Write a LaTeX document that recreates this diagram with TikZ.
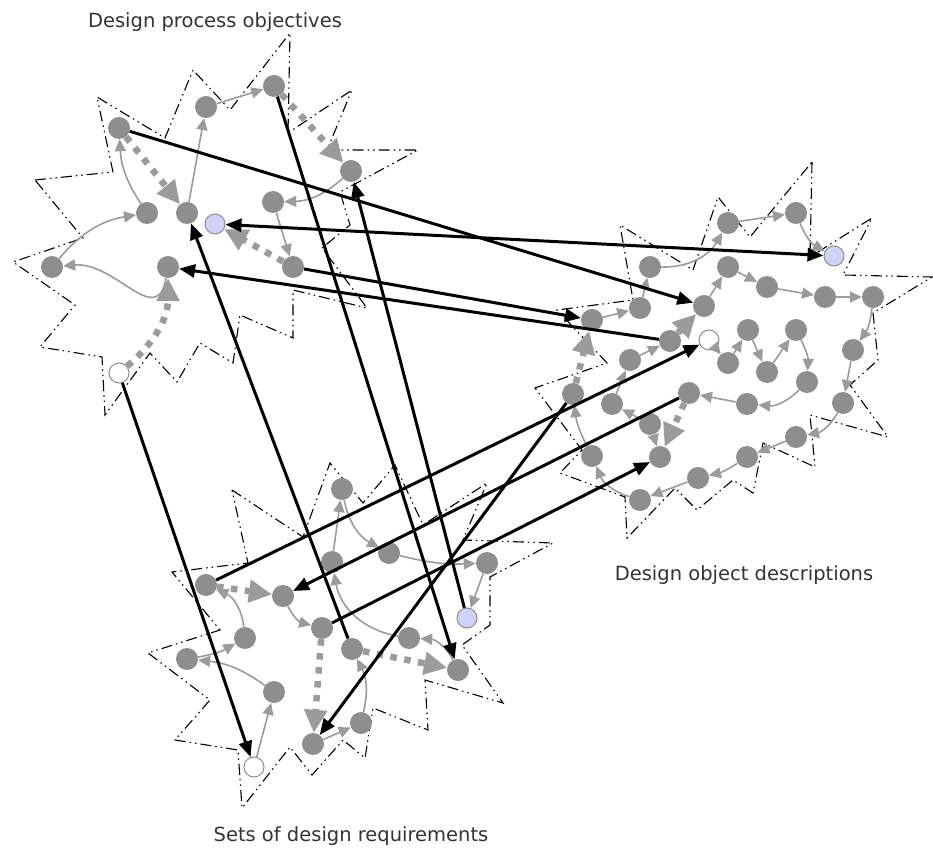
\documentclass[tikz,border=0pt]{standalone}
\usepackage{fontspec}
\newfontfamily\labelfont{DejaVu Sans}
\definecolor{DotGray}{HTML}{8E8E8E}
\definecolor{LinkGray}{HTML}{9B9B9B}
\definecolor{LinkLavender}{HTML}{D2D2F8}
\definecolor{LabelGray}{HTML}{333333}
\usetikzlibrary{arrows.meta}

\begin{document}
\begin{tikzpicture}[x=1pt, y=1pt,
    dot/.style={circle, fill=DotGray, minimum size=22pt, inner sep=0pt},
    startdot/.style={circle, draw=DotGray, fill=white, line width=1pt, minimum size=20pt, inner sep=0pt},
    linkdot/.style={circle, draw=DotGray, fill=LinkLavender, line width=1pt, minimum size=20pt, inner sep=0pt},
    thin/.style={->, >={Triangle[length=12pt, width=11pt]}, line width=1.6pt, LinkGray},
    thick/.style={->, >={Triangle[length=23pt, width=22pt]}, line width=6.5pt, LinkGray, dash pattern=on 6.5pt off 7.5pt},
    arr/.style={->, >={Triangle[length=16pt, width=13pt]}, line width=3pt, black},
    outline/.style={line width=1.1pt, dash pattern=on 11pt off 4pt on 1.5pt off 4pt on 1.5pt off 4pt},
    lbl/.style={font=\labelfont\fontsize{19.5}{23}\selectfont, text=LabelGray}
]
\useasboundingbox (0,0) rectangle (933,852);

\draw[outline] (35,672) -- (113,680) -- (97,755) -- (165,714) -- (193,782) -- (230,742) -- (290,819) -- (288,719) -- (352,762) -- (327,702) -- (418,702) -- (340,660) -- (350,627) -- (322,604) -- (367,544) -- (293,562) -- (293,514) -- (240,537) -- (233,489) -- (200,509) -- (177,470) -- (150,499) -- (105,437) -- (102,495) -- (40,505) -- (75,547) -- (13,590) -- (83,614) -- cycle;
\draw[outline] (812,690) -- (810,595) -- (872,634) -- (843,577) -- (932,575) -- (873,539) -- (878,492) -- (850,467) -- (888,415) -- (810,437) -- (815,385) -- (763,409) -- (753,359) -- (733,372) -- (697,342) -- (675,364) -- (627,314) -- (625,355) -- (560,379) -- (582,402) -- (535,464) -- (607,489) -- (557,542) -- (633,552) -- (620,627) -- (693,582) -- (718,655) -- (750,615) -- cycle;
\draw[outline] (232,362) -- (303,315) -- (330,389) -- (363,349) -- (395,387) -- (423,327) -- (487,369) -- (463,312) -- (553,309) -- (490,275) -- (490,227) -- (462,207) -- (503,149) -- (425,172) -- (428,122) -- (373,144) -- (365,94) -- (343,112) -- (312,77) -- (290,105) -- (242,44) -- (238,102) -- (175,112) -- (210,152) -- (148,199) -- (220,222) -- (172,280) -- (248,289) -- cycle;

\node[dot] (o1) at (119,724) {};
\node[dot] (o2) at (206,745) {};
\node[dot] (o3) at (274,766) {};
\node[dot] (o4) at (351,681) {};
\node[dot] (o5) at (147,639) {};
\node[dot] (o6) at (187,639) {};
\node[linkdot] (o7) at (215,628) {};
\node[dot] (o8) at (273,650) {};
\node[dot] (o9) at (52,585) {};
\node[dot] (o10) at (168,585) {};
\node[dot] (o11) at (293,585) {};
\node[startdot] (o12) at (119,479) {};

\node[dot] (d1) at (728,629) {};
\node[dot] (d2) at (796,639) {};
\node[linkdot] (d3) at (834,596) {};
\node[dot] (d4) at (650,585) {};
\node[dot] (d5) at (728,585) {};
\node[dot] (d6) at (767,565) {};
\node[dot] (d7) at (825,555) {};
\node[dot] (d8) at (873,555) {};
\node[dot] (d9) at (640,544) {};
\node[dot] (d10) at (704,546) {};
\node[dot] (d11) at (592,532) {};
\node[startdot] (d12) at (709,512) {};
\node[dot] (d13) at (670,511) {};
\node[dot] (d14) at (748,522) {};
\node[dot] (d15) at (796,522) {};
\node[dot] (d16) at (853,502) {};
\node[dot] (d17) at (630,492) {};
\node[dot] (d18) at (728,489) {};
\node[dot] (d19) at (767,480) {};
\node[dot] (d20) at (807,470) {};
\node[dot] (d21) at (573,458) {};
\node[dot] (d22) at (612,448) {};
\node[dot] (d23) at (689,459) {};
\node[dot] (d24) at (747,448) {};
\node[dot] (d25) at (843,449) {};
\node[dot] (d26) at (650,428) {};
\node[dot] (d27) at (796,415) {};
\node[dot] (d28) at (592,396) {};
\node[dot] (d29) at (660,395) {};
\node[dot] (d30) at (747,395) {};
\node[dot] (d31) at (698,374) {};
\node[dot] (d32) at (640,352) {};

\node[dot] (r1) at (342,363) {};
\node[dot] (r2) at (389,299) {};
\node[dot] (r3) at (332,290) {};
\node[dot] (r4) at (487,289) {};
\node[dot] (r5) at (206,267) {};
\node[dot] (r6) at (283,256) {};
\node[linkdot] (r7) at (467,234) {};
\node[dot] (r8) at (322,224) {};
\node[dot] (r9) at (245,214) {};
\node[dot] (r10) at (409,214) {};
\node[dot] (r11) at (352,203) {};
\node[dot] (r12) at (187,193) {};
\node[dot] (r13) at (458,182) {};
\node[dot] (r14) at (274,160) {};
\node[dot] (r15) at (361,129) {};
\node[dot] (r16) at (313,108) {};
\node[startdot] (r17) at (254,85) {};

\draw[thin] (o5) to[bend left=15] (o1);
\draw[thick] (o1) -- (o6);
\draw[thin] (o6) -- (o2);
\draw[thin] (o2) -- (o3);
\draw[thick] (o3) -- (o4);
\draw[thin] (o4) to[bend left=20] (o8);
\draw[thin] (o8) -- (o11);
\draw[thick] (o11) -- (o7);
\draw[thin] (o9) to[bend left=20] (o5);
\draw[thin] (o10) to[out=-100, in=5, looseness=1.3] (o9);
\draw[thick] (o12) to[bend right=25] (o10);

\draw[thin] (d1) -- (d2);
\draw[thin] (d2) to[bend right=20] (d3);
\draw[thin] (d4) to[bend right=30] (d1);
\draw[thin] (d9) -- (d4);
\draw[thin] (d11) -- (d9);
\draw[thick] (d21) -- (d11);
\draw[thin] (d28) to[bend left=10] (d21);
\draw[thin] (d32) to[bend left=25] (d28);
\draw[thin] (d31) -- (d32);
\draw[thin] (d30) to[bend left=10] (d31);
\draw[thin] (d27) -- (d30);
\draw[thin] (d25) to[bend left=25] (d27);
\draw[thin] (d16) -- (d25);
\draw[thin] (d8) to[bend left=15] (d16);
\draw[thin] (d7) -- (d8);
\draw[thin] (d6) -- (d7);
\draw[thin] (d5) -- (d6);
\draw[thin] (d10) -- (d5);
\draw[thick] (d13) -- (d10);
\draw[thin] (d17) -- (d13);
\draw[thin] (d22) -- (d17);
\draw[thin] (d26) -- (d22);
\draw[thin] (d26) -- (d29);
\draw[thick] (d23) -- (d29);
\draw[thin] (d24) -- (d23);
\draw[thin] (d20) to[bend left=25] (d24);
\draw[thin] (d15) to[bend left=15] (d20);
\draw[thin] (d19) -- (d15);
\draw[thin] (d14) -- (d19);
\draw[thin] (d18) -- (d14);
\draw[thin] (d12) -- (d18);

\draw[thin] (r3) -- (r1);
\draw[thin] (r1) to[bend right=25] (r2);
\draw[thin] (r2) to[bend right=8] (r4);
\draw[thin] (r4) -- (r7);
\draw[thick] (r5) -- (r6);
\draw[thin] (r6) to[bend right=25] (r8);
\draw[thick] (r8) -- (r16);
\draw[thin] (r9) to[bend right=30] (r5);
\draw[thin] (r12) to[bend right=10] (r9);
\draw[thin] (r14) to[bend right=15] (r12);
\draw[thin] (r17) -- (r14);
\draw[thin] (r16) -- (r15);
\draw[thin] (r15) to[bend right=20] (r11);
\draw[thin] (r10) to[bend left=35] (r3);
\draw[thick] (r11) -- (r13);
\draw[thin] (r13) to[bend right=30] (r10);

\draw[arr] (o1) -- (d10);
\draw[arr, <->] (d3) -- (o7);
\draw[arr] (o11) -- (d11);
\draw[arr] (d13) -- (o10);
\draw[arr] (o3) -- (r13);
\draw[arr] (r7) -- (o4);
\draw[arr] (r11) -- (o6);
\draw[arr] (o12) -- (r17);
\draw[arr] (r5) -- (d12);
\draw[arr] (d23) -- (r6);
\draw[arr] (r8) -- (d29);
\draw[arr] (d21) -- (r16);

\node[lbl] (lblObj) at (215,830) {Design process objectives};
\node[lbl] (lblDesc) at (744,277) {Design object descriptions};
\node[lbl] (lblReq) at (351,16) {Sets of design requirements};
\end{tikzpicture}
\end{document}
